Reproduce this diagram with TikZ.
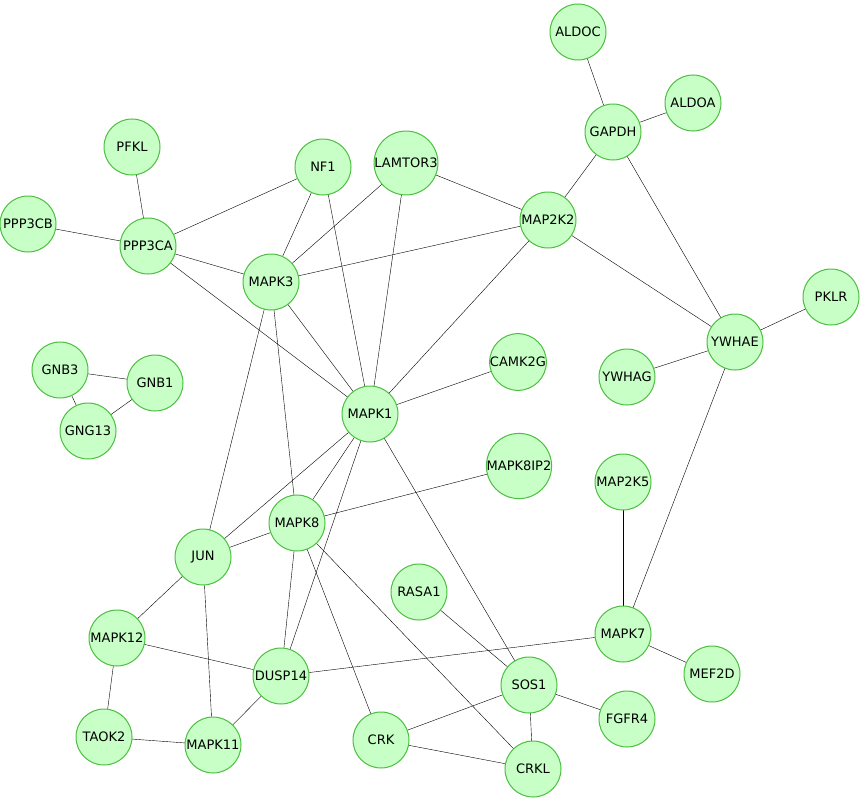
\documentclass[tikz,border=0pt]{standalone}
\usepackage{fontspec}
\setmainfont{DejaVu Sans}
\usetikzlibrary{backgrounds}
\definecolor{cfill}{rgb}{0.78, 1, 0.78}
\definecolor{cline}{rgb}{0.3, 0.75, 0.25}
\begin{document}
\begin{tikzpicture}[x=1pt,y=-1pt,-,thick,
  gene node/.style={circle,fill=cfill,draw=cline,line width=1pt,minimum size=56pt,inner sep=0pt,font=\fontsize{13}{13}\selectfont}]
  \useasboundingbox (0,0) rectangle (862,800);
  \foreach \name/\x/\y in {ALDOC/578/32, ALDOA/693/103, GAPDH/613/132, PFKL/132/147,
      NF1/323/167, LAMTOR3/406/163, MAP2K2/548/220, PPP3CB/28/224, PPP3CA/148/246,
      MAPK3/271/282, PKLR/831/297, YWHAE/735/342, CAMK2G/518/362, YWHAG/627/377,
      GNB3/60/370, GNB1/155/383, MAPK1/370/414, GNG13/88/431, MAPK8IP2/519/466,
      MAP2K5/623/482, MAPK8/297/523, JUN/203/557, RASA1/419/592, MAPK12/117/638,
      MAPK7/623/634, DUSP14/281/676, MEF2D/712/674, SOS1/529/685, FGFR4/627/719,
      TAOK2/104/737, MAPK11/213/745, CRK/381/740, CRKL/533/769}
    \node[gene node] (\name) at (\x,\y) {\name};

  \begin{scope}[on background layer]
  \foreach \a/\b in {ALDOC/GAPDH, ALDOA/GAPDH, GAPDH/MAP2K2, GAPDH/YWHAE, PFKL/PPP3CA,
      PPP3CB/PPP3CA, PPP3CA/NF1, PPP3CA/MAPK3, PPP3CA/MAPK1, NF1/MAPK3, NF1/MAPK1,
      LAMTOR3/MAPK3, LAMTOR3/MAPK1, LAMTOR3/MAP2K2, MAP2K2/MAPK3, MAP2K2/MAPK1,
      MAP2K2/YWHAE, PKLR/YWHAE, YWHAG/YWHAE, YWHAE/MAPK7, CAMK2G/MAPK1, GNB3/GNB1,
      GNB3/GNG13, GNB1/GNG13, MAPK3/MAPK1, MAPK3/JUN, MAPK3/MAPK8, MAPK1/JUN,
      MAPK1/MAPK8, MAPK1/DUSP14, MAPK1/SOS1, MAPK8IP2/MAPK8, MAPK8/JUN, MAPK8/DUSP14,
      MAPK8/CRK, MAPK8/CRKL, MAP2K5/MAPK7, MAPK7/MEF2D, MAPK7/DUSP14, JUN/MAPK12,
      JUN/MAPK11, MAPK12/DUSP14, MAPK12/TAOK2, TAOK2/MAPK11, MAPK11/DUSP14,
      RASA1/SOS1, SOS1/FGFR4, SOS1/CRK, SOS1/CRKL, CRK/CRKL}
    \draw (\a.center) -- (\b.center);
  \end{scope}
\end{tikzpicture}
\end{document}
